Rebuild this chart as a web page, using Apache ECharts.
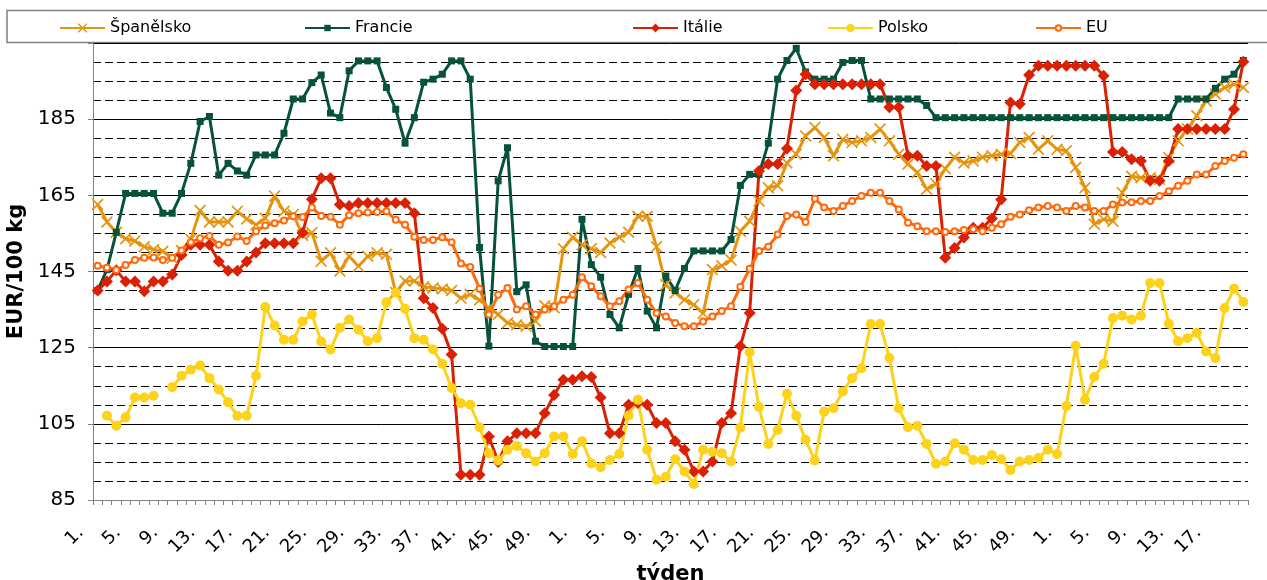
<!DOCTYPE html>
<html>
<head>
<meta charset="utf-8">
<title>Ceny</title>
<script src="https://cdn.jsdelivr.net/npm/echarts@6.0.0/dist/echarts.min.js"></script>
<style>
    html, body {margin: 0; padding: 0; background: #fff;}
    #chart {width: 1267px; height: 580px;}
</style>
</head>
<body>
<div id="chart"></div>
<script>
// týdny: rok 1 (52 týdnů), rok 2 (52 týdnů), rok 3 (20 týdnů)
var yearLengths = [52, 52, 20];
var weeks = [];
for (var y = 0; y < yearLengths.length; y++) {
    for (var w = 1; w <= yearLengths[y]; w++) {
        weeks.push(w + '.');
    }
}

// popisky osy Y
var yTicks = [85, 105, 125, 145, 165, 185];

// Španělsko
var spain = [162.6, 158, 155.3, 153.6, 153, 151.5, 150.8, 150.3, 148.5, 150.5,
    153.5, 161, 158, 158, 158, 160.8, 158.8, 157.3, 159, 164.8,
    160.8, 160, 154.5, 155.2, 147.7, 149.9, 145.1, 149, 146.4, 149,
    149.9, 149.5, 139.5, 142.5, 142.5, 141, 140.7, 140.4, 140, 138,
    139, 137.5, 135.5, 133.7, 131.5, 131, 130.6, 132, 136, 135.5,
    151, 154, 152, 151, 150, 152.5, 154, 155.3, 159.5, 159.5,
    151.5, 141.5, 139.4, 137.6, 136.3, 134, 145.5, 146.5, 148, 155.6,
    158.2, 163.5, 167, 167.5, 173.5, 175.8, 180.6, 182.8, 180.2, 175.4,
    179.7, 178.9, 179.3, 180.2, 182.4, 179.3, 175.8, 173.2, 171, 166.6,
    168, 172, 175, 173.5, 174, 175, 175.4, 175.8, 176, 178.9,
    180.2, 177.1, 179.3, 177.1, 176.7, 172.3, 167, 157.4, 158.7, 158.2,
    165.7, 170, 169.6, 169.6, 169.2, 174.9, 179.3, 182.4, 185.9, 189.8,
    191.6, 193.3, 194.2, 193.3];

// Francie
var france = [140, 145.5, 155.3, 165.5, 165.5, 165.5, 165.5, 160.3, 160.3, 165.5,
    173.4, 184.4, 185.7, 170.3, 173.4, 171.4, 170.3, 175.6, 175.6, 175.6,
    181.3, 190.3, 190.3, 194.6, 196.6, 186.6, 185.4, 197.7, 200.3, 200.3,
    200.3, 193.3, 187.6, 178.7, 185.4, 194.7, 195.5, 196.8, 200.3, 200.3,
    195.5, 151.3, 125.4, 168.8, 177.5, 139.7, 141.5, 126.7, 125.3, 125.3,
    125.3, 125.3, 158.7, 146.8, 143.5, 133.7, 130.2, 139, 145.8, 134.6,
    130.2, 143.8, 140, 145.8, 150.4, 150.4, 150.4, 150.4, 153.4, 167.6,
    170.5, 170.5, 178.7, 195.5, 200.4, 203.6, 197.4, 195.5, 195.5, 195.5,
    199.9, 200.4, 200.4, 190.3, 190.3, 190.3, 190.3, 190.3, 190.3, 188.6,
    185.4, 185.4, 185.4, 185.4, 185.4, 185.4, 185.4, 185.4, 185.4, 185.4,
    185.4, 185.4, 185.4, 185.4, 185.4, 185.4, 185.4, 185.4, 185.4, 185.4,
    185.4, 185.4, 185.4, 185.4, 185.4, 185.4, 190.3, 190.3, 190.3, 190.3,
    193.1, 195.5, 196.8, 200.4];

// Itálie
var italy = [140, 142.4, 145.3, 142.4, 142.4, 139.8, 142.4, 142.4, 144.2, 149.3,
    152, 152, 152, 147.6, 145.2, 145.2, 147.6, 150, 152.4, 152.4,
    152.4, 152.4, 155.2, 164, 169.5, 169.5, 162.6, 162.2, 163, 163,
    163, 163, 163, 163, 160.3, 138, 135.4, 130, 123.2, 91.6,
    91.6, 91.6, 101.7, 95, 100.4, 102.5, 102.5, 102.5, 107.8, 112.6,
    116.6, 116.6, 117.5, 117.3, 111.9, 102.5, 102.5, 110, 110.5, 110,
    105.2, 105.2, 100.4, 98.2, 92.5, 92.5, 95.1, 105.2, 107.8, 125.4,
    134.1, 171.4, 173.2, 173.2, 177.3, 192.5, 196.8, 194.2, 194.2, 194.2,
    194.2, 194.2, 194.2, 194.2, 194.2, 188.1, 188.1, 175.4, 175.4, 172.7,
    172.7, 148.6, 151.2, 153.9, 156.5, 156.5, 158.9, 163.9, 189.4, 189,
    196.6, 199, 199, 199, 199, 199, 199, 199, 196.4, 176.4,
    176.4, 174.5, 174, 168.8, 168.8, 174, 182.4, 182.4, 182.4, 182.4,
    182.4, 182.4, 187.6, 200.1];

// Polsko (chybějící týdny = null)
var poland = [null, 107.1, 104.5, 106.7, 111.9, 111.9, 112.4, null, 114.6, 117.6,
    119.2, 120.3, 117, 114, 110.7, 107.1, 107.1, 117.6, 135.7, 130.8,
    127.1, 127.1, 131.9, 133.7, 126.6, 124.5, 130.2, 132.4, 129.7, 126.7,
    127.5, 136.9, 139.4, 135.2, 127.5, 127.1, 124.5, 120.8, 114.4, 110.4,
    110, 104.1, 97.3, 95.4, 98.2, 99.2, 97.3, 95.1, 97.3, 101.7,
    101.7, 97.1, 100.4, 94.6, 93.6, 95.5, 97.1, 107.2, 111.3, 98.2,
    90.3, 91.1, 95.7, 92.5, 89.2, 98.2, 97.7, 97.3, 95.1, 104,
    123.8, 109.4, 99.7, 103.4, 112.9, 107.1, 100.8, 95.4, 108.2, 109.1,
    113.5, 117, 119.6, 131.2, 131.2, 122.3, 109.1, 104.1, 104.5, 99.7,
    94.5, 95.1, 99.9, 98.2, 95.5, 95.5, 96.8, 95.7, 92.9, 95.1,
    95.5, 96, 98.2, 97.1, 109.7, 125.5, 111.3, 117.3, 120.8, 132.8,
    133.4, 132.4, 133.4, 142, 142, 131.3, 126.7, 127.5, 128.9, 124,
    122.3, 135.4, 140.5, 137];

// EU
var eu = [146.5, 146, 145.4, 146.7, 148, 148.6, 148.7, 148, 148.6, 150.5,
    152.7, 153.7, 154.3, 152, 152.6, 154.2, 153, 155.6, 157.1, 157.7,
    158.4, 159.5, 159.3, 161.8, 159.6, 159.4, 157.3, 159.8, 160.3, 160.5,
    160.6, 160.8, 158.6, 157.3, 154.1, 153.3, 153.3, 154, 152.7, 147.1,
    146.2, 140.5, 133.7, 138.9, 140.7, 135, 135.9, 133.7, 135, 135.9,
    137.6, 138.9, 143.5, 141.1, 138.5, 135.9, 137.2, 140.3, 142, 137.6,
    134.1, 133.2, 131.5, 130.6, 130.6, 131.9, 133.2, 134.6, 135.9, 141,
    145.7, 150.4, 151.5, 154.7, 159.6, 160, 158, 164.1, 161.8, 160.9,
    162.2, 163.5, 164.8, 165.7, 165.7, 163.5, 161.3, 157.8, 156.9, 155.6,
    155.6, 155.4, 155.6, 155.9, 156.1, 155.6, 156.5, 157.4, 159.4, 160,
    161.1, 161.8, 162.2, 161.8, 160.9, 162.2, 161.8, 160.9, 160.9, 162.6,
    163.1, 163.2, 163.5, 163.5, 164.8, 166.1, 167.5, 168.8, 170.5, 170.5,
    172.7, 174, 174.9, 175.8];

var fontName = 'DejaVu Sans';
var crossPath = 'path://M0,1L1,0L5,4L9,0L10,1L6,5L10,9L9,10L5,6L1,10L0,9L4,5Z'; // znak "x"

/**
 * Vytvoří jednu řadu grafu
 * @param name {string} název řady
 * @param data {array} hodnoty
 * @param color {string} barva
 * @param symbol {string} značka
 * @param size {number} velikost značky
 */
function makeSeries(name, data, color, symbol, size) {
    return {
        name: name,
        type: 'line',
        data: data,
        symbol: symbol,
        symbolSize: size,
        showAllSymbol: true,
        connectNulls: false,
        animation: false,
        lineStyle: {color: color, width: 3},
        itemStyle: {color: color, borderColor: color, borderWidth: symbol === 'emptyCircle' ? 1.5 : 0}
    };
}

// legenda - každá položka zvlášť, aby seděly pozice i velikosti značek
var legendLefts = [59, 304, 632, 827, 1035];
var legendMarks = [12, 8, 11, 10, 7];
var seriesNames = ['Španělsko', 'Francie', 'Itálie', 'Polsko', 'EU'];
var legends = [];
for (var k = 0; k < seriesNames.length; k++) {
    legends.push({
        data: [seriesNames[k]],
        left: legendLefts[k],
        top: 20,
        padding: 0,
        itemWidth: 45,
        itemHeight: legendMarks[k],
        itemGap: 4,
        textStyle: {fontFamily: fontName, fontSize: 16, color: '#000', height: 16, lineHeight: 16},
        selectedMode: false
    });
}

var option = {
    animation: false,
    backgroundColor: '#fff',
    graphic: [{
        type: 'rect',
        z: 0,
        shape: {x: 7, y: 10.5, width: 1290, height: 32},
        style: {fill: '#fff', stroke: '#7f7f7f', lineWidth: 1.5}
    }],
    legend: legends,
    grid: {left: 93, right: 19, top: 43, bottom: 80, containLabel: false, outerBoundsMode: 'none'},
    xAxis: {
        type: 'category',
        data: weeks,
        boundaryGap: true,
        name: 'týden',
        nameLocation: 'middle',
        nameGap: 62,
        nameTextStyle: {fontFamily: fontName, fontSize: 21, fontWeight: 'bold', color: '#000'},
        axisLine: {lineStyle: {color: '#808080', width: 1}},
        axisTick: {show: true, interval: 0, length: 5, lineStyle: {color: '#808080'}},
        axisLabel: {
            interval: 3,
            rotate: 45,
            margin: 13,
            padding: [0, 24, 0, 0],
            fontFamily: fontName,
            fontSize: 18,
            color: '#000'
        },
        splitLine: {show: false}
    },
    yAxis: {
        type: 'value',
        min: 85,
        max: 205,
        interval: 20,
        name: 'EUR/100 kg',
        nameLocation: 'middle',
        nameGap: 58,
        nameRotate: 90,
        nameTextStyle: {fontFamily: fontName, fontSize: 21, fontWeight: 'bold', color: '#000'},
        axisLine: {show: true, lineStyle: {color: '#808080', width: 1}},
        axisTick: {show: true, length: 5, lineStyle: {color: '#808080'}},
        axisLabel: {
            margin: 17,
            fontFamily: fontName,
            fontSize: 20,
            color: '#000',
            formatter: function (v) {
                return yTicks.indexOf(v) >= 0 ? String(v) : '';
            }
        },
        splitLine: {show: true, lineStyle: {color: '#000', width: 1}},
        minorTick: {show: false, splitNumber: 4},
        minorSplitLine: {show: true, lineStyle: {color: '#000', width: 1, type: [8, 4]}}
    },
    series: [
        makeSeries('Španělsko', spain, '#E5940F', crossPath, 12),
        makeSeries('Francie', france, '#06523A', 'rect', 7),
        makeSeries('Itálie', italy, '#DA2103', 'diamond', 12),
        makeSeries('Polsko', poland, '#FCD21A', 'circle', 10),
        makeSeries('EU', eu, '#FF6A0C', 'emptyCircle', 6)
    ]
};

echarts.init(document.getElementById('chart'), null, {renderer: 'canvas'}).setOption(option);
</script>
</body>
</html>
